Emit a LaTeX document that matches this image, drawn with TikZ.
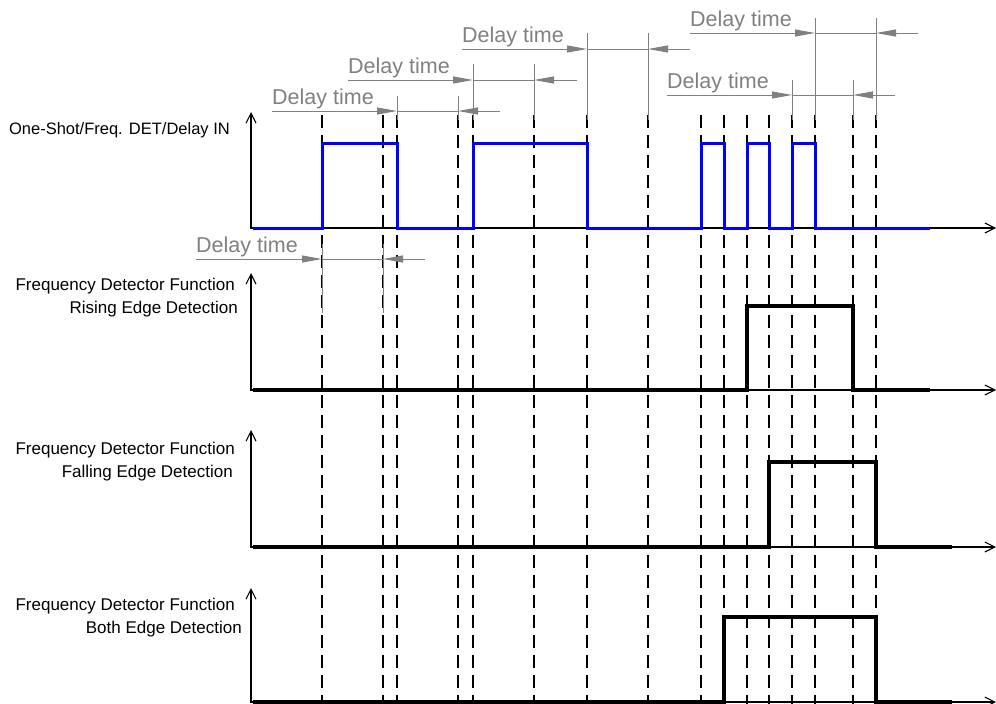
\documentclass[tikz,border=0pt]{standalone}
\usepackage{fontspec}
\setmainfont{Liberation Sans}
\usepackage{xcolor}
\usetikzlibrary{arrows.meta}
\definecolor{dimgray}{RGB}{128,128,128}

\begin{document}
\begin{tikzpicture}[
    x=1pt, y=-1pt,
    marker/.style={black, line width=1.2pt, dash pattern=on 13pt off 7pt},
    extline/.style={dimgray, line width=1pt},
    dimline/.style={dimgray, line width=1pt},
    dimtip/.style={dimline, -{Triangle[length=20pt, width=7pt]}},
    axis/.style={black, line width=1.1pt, {Straight Barb[length=10pt, width=10pt]}-{Straight Barb[length=10pt, width=10pt]}},
    inwave/.style={blue, line width=3pt},
    outwave/.style={black, line width=3.5pt},
    siglabel/.style={anchor=base east, inner sep=0pt, font=\fontsize{17}{20}\selectfont},
    delaylabel/.style={anchor=base west, inner sep=0pt, text=dimgray, font=\fontsize{21.5}{24}\selectfont}
]
\useasboundingbox (0,0) rectangle (996,704);

% time markers
\foreach \t in {322,383,397,458,473,534,587,648,701,724,747,769,792,815,853,876}
    \draw[marker] (\t,115) -- (\t,704);

% axes
\draw[axis] (251,112) -- (251,228) -- (996,228);
\draw[axis] (251,273) -- (251,390) -- (996,390);
\draw[axis] (251,430) -- (251,547) -- (996,547);
\draw[axis] (251,588) -- (251,702) -- (996,702);

% signal names
\node[siglabel, font=\fontsize{16.5}{20}\selectfont] (in) at (230,134) {One-Shot/Freq. DET/Delay IN};
\node[siglabel] (rise1) at (235,290) {Frequency Detector Function};
\node[siglabel] (rise2) at (238,313) {Rising Edge Detection};
\node[siglabel] (fall1) at (235,454) {Frequency Detector Function};
\node[siglabel] (fall2) at (233,477) {Falling Edge Detection};
\node[siglabel] (both1) at (235,610) {Frequency Detector Function};
\node[siglabel] (both2) at (242,633) {Both Edge Detection};

% waveforms
\draw[inwave] (253,228) -| (322,143) -| (397,228) -| (473,143) -| (587,228) -| (701,143) -| (724,228)
    -| (747,143) -| (769,228) -| (792,143) -| (815,228) -- (930,228);
\draw[outwave] (253,390) -| (747,306) -| (853,390) -- (930,390);
\draw[outwave] (253,547) -| (769,462) -| (876,547) -- (952,547);
\draw[outwave] (253,702) -| (724,617) -| (876,702) -- (952,702);

% delay time dimensions
\foreach \n/\xs/\ta/\tb/\xe/\y/\top/\bot in {1/272/397/458/500/111/96/120, 2/348/473/534/577/80/64/120,
    3/462/587/648/690/49/33/120, 4/690/815/876/918/33/18/120, 5/667/792/853/895/95/80/120, 6/196/322/383/425/259/244/313}
{
    \draw[extline] (\ta,\top) -- (\ta,\bot);
    \draw[extline] (\tb,\top) -- (\tb,\bot);
    \draw[dimline] (\ta,\y) -- (\tb,\y);
    \draw[dimtip] (\xs,\y) -- (\ta,\y);
    \draw[dimtip] (\xe,\y) -- (\tb,\y);
    \node[delaylabel] (delay\n) at (\xs,\y-7) {Delay time};
}
\end{tikzpicture}
\end{document}
